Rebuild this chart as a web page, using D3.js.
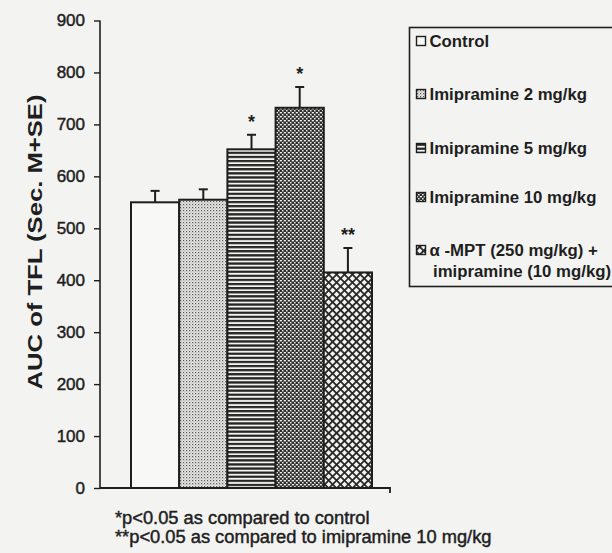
<!DOCTYPE html>
<html>
<head>
<meta charset="utf-8">
<script src="https://cdn.jsdelivr.net/npm/d3@7"></script>
<style>
  body { margin: 0; background: #f3f3f1; }
  svg { display: block; }
  text { font-family: Arial, "Liberation Sans", sans-serif; fill: #1e1e1e; }
  .heavy { stroke: #1e1e1e; stroke-width: 0.45px; paint-order: stroke; }
</style>
</head>
<body>
<svg id="chart" width="612" height="553"></svg>
<script>
// data
const groups = ["Control", "Imipramine 2 mg/kg", "Imipramine 5 mg/kg", "Imipramine 10 mg/kg", "α -MPT (250 mg/kg) +"];
const legendLines = [["Control"], ["Imipramine 2 mg/kg"], ["Imipramine 5 mg/kg"], ["Imipramine 10 mg/kg"], ["α -MPT (250 mg/kg) +", "imipramine (10 mg/kg)"]];
const means = [550, 555, 652, 732, 415];
const sems = [22, 20, 28, 40, 47];
const marks = ["", "", "*", "*", "**"];
const yTicks = [0, 100, 200, 300, 400, 500, 600, 700, 800, 900];
const notes = ["*p<0.05 as compared to control", "**p<0.05 as compared to imipramine 10 mg/kg"];

const ink = "#1e1e1e";
const svg = d3.select("#chart");

// fill patterns, one per group
const defs = svg.append("defs");
function pattern(id, w, h) {
    return defs.append("pattern").attr("id", id)
        .attr("patternUnits", "userSpaceOnUse")
        .attr("width", w).attr("height", h);
}
// light stipple
let p = pattern("p1", 3, 3);
p.append("rect").attr("width", 3).attr("height", 3).attr("fill", "#e8e8e6");
p.append("rect").attr("x", 0).attr("y", 0).attr("width", 1.2).attr("height", 1.2).attr("fill", "#555");
p.append("rect").attr("x", 1.5).attr("y", 1.5).attr("width", 1).attr("height", 1).attr("fill", "#8a8a8a");
// horizontal lines
p = pattern("p2", 4, 4.1);
p.append("rect").attr("width", 4).attr("height", 4.1).attr("fill", "#f4f4f2");
p.append("rect").attr("y", 0).attr("width", 4).attr("height", 2.3).attr("fill", "#262626");
// dark stipple
p = pattern("p3", 4, 4);
p.append("rect").attr("width", 4).attr("height", 4).attr("fill", "#2e2e2e");
p.append("rect").attr("x", 0).attr("y", 0).attr("width", 2).attr("height", 1.4).attr("fill", "#ececea");
p.append("rect").attr("x", 2).attr("y", 2).attr("width", 1.6).attr("height", 1.5).attr("fill", "#e2e2e0");
p.append("rect").attr("x", 3).attr("y", 0.6).attr("width", 0.8).attr("height", 0.8).attr("fill", "#aaa");
// crosshatch
p = pattern("p4", 5.6, 5.6).attr("patternTransform", "rotate(45)");
p.append("rect").attr("width", 5.6).attr("height", 5.6).attr("fill", "#f4f4f2");
p.append("rect").attr("width", 5.6).attr("height", 1.8).attr("fill", "#262626");
p.append("rect").attr("width", 1.8).attr("height", 5.6).attr("fill", "#262626");

const fills = ["#f8f8f6", "url(#p1)", "url(#p2)", "url(#p3)", "url(#p4)"];

const x = d3.scaleBand().domain(groups).range([131, 372]).padding(0);
const y = d3.scaleLinear().domain([0, 900]).range([488, 20.5]);

// bars
svg.append("g").selectAll("rect").data(groups).join("rect")
    .attr("x", d => x(d))
    .attr("y", (d, i) => y(means[i]))
    .attr("width", x.bandwidth())
    .attr("height", (d, i) => y(0) - y(means[i]))
    .attr("fill", (d, i) => fills[i])
    .attr("stroke", ink).attr("stroke-width", 2);

// error bars (upper only)
const err = svg.append("g").attr("stroke", ink).attr("stroke-width", 2);
groups.forEach((g, i) => {
    const cx = x(g) + x.bandwidth() / 2;
    err.append("line").attr("x1", cx).attr("x2", cx)
        .attr("y1", y(means[i])).attr("y2", y(means[i] + sems[i]));
    err.append("line").attr("x1", cx - 4.5).attr("x2", cx + 4.5)
        .attr("y1", y(means[i] + sems[i])).attr("y2", y(means[i] + sems[i]));
});

// significance marks
svg.append("g").selectAll("text").data(groups).join("text")
    .attr("x", d => x(d) + x.bandwidth() / 2)
    .attr("y", (d, i) => y(means[i] + sems[i]) - 7)
    .attr("text-anchor", "middle")
    .attr("font-size", 18).attr("font-weight", "bold")
    .text((d, i) => marks[i]);

// axes
const yAxis = svg.append("g").attr("transform", "translate(100,0)")
    .call(d3.axisLeft(y).tickValues(yTicks).tickSize(6).tickPadding(9));
yAxis.select(".domain").attr("stroke", ink).attr("stroke-width", 1.6).attr("d", "M0," + y(900) + "V" + y(0));
yAxis.selectAll(".tick line").attr("stroke", ink).attr("stroke-width", 1.4);
yAxis.selectAll(".tick text").attr("font-size", 17).attr("fill", ink).attr("class", "heavy")
    .attr("font-family", "Arial, 'Liberation Sans', sans-serif");

svg.append("path").attr("d", "M100," + y(0) + "H390V" + (y(0) + 5))
    .attr("fill", "none").attr("stroke", ink).attr("stroke-width", 1.8);

svg.append("text")
    .attr("transform", "translate(42,242) rotate(-90)")
    .attr("text-anchor", "middle")
    .attr("font-size", 21).attr("font-weight", "bold")
    .attr("textLength", 295).attr("lengthAdjust", "spacingAndGlyphs")
    .text("AUC of TFL (Sec. M+SE)");

// legend
const lg = svg.append("g");
lg.append("rect").attr("x", 409.5).attr("y", 27.5).attr("width", 205).attr("height", 259)
    .attr("fill", "none").attr("stroke", ink).attr("stroke-width", 1.6);
const legendY = [41, 94, 148, 197, 250];
legendLines.forEach((lines, i) => {
    lg.append("rect").attr("x", 416.5).attr("y", legendY[i] - 4.5).attr("width", 9).attr("height", 9)
        .attr("fill", fills[i]).attr("stroke", ink).attr("stroke-width", 1.4);
    lines.forEach((t, j) => {
        lg.append("text").attr("x", j === 0 ? 429.5 : 433).attr("y", legendY[i] + 6 + j * 21)
            .attr("font-size", 16.8).attr("font-weight", "bold").text(t);
    });
});

// footnotes
svg.append("g").selectAll("text").data(notes).join("text")
    .attr("class", "heavy")
    .attr("x", 115).attr("y", (d, i) => 524 + i * 19)
    .attr("font-size", 18.3)
    .text(d => d);
</script>
</body>
</html>
